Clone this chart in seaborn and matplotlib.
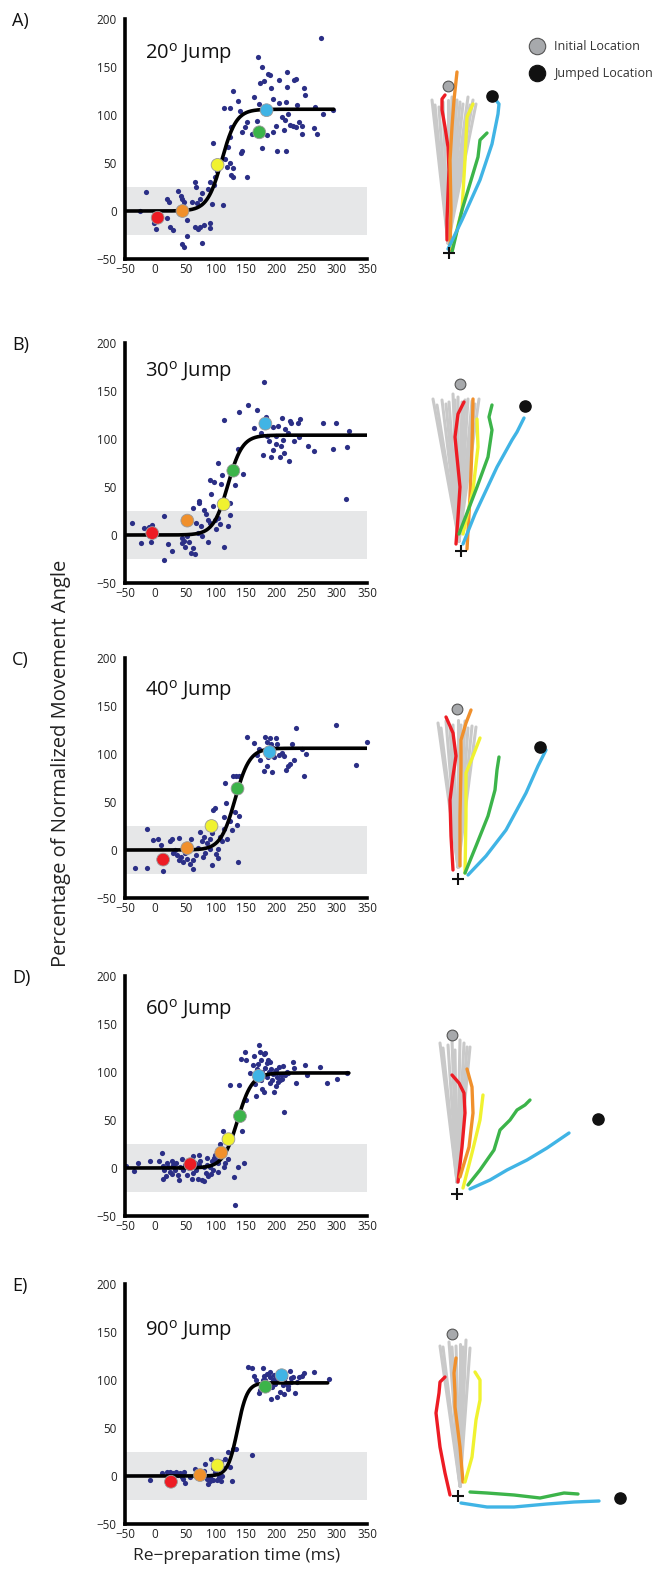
import numpy as np
import pandas as pd
import matplotlib
matplotlib.use('Agg')
import matplotlib.pyplot as plt
import seaborn as sns

# ---------------- data ----------------
panel_labels = ['A)', 'B)', 'C)', 'D)', 'E)']
jump_degrees = ['20', '30', '40', '60', '90']
x_ticks = [-50, 0, 50, 100, 150, 200, 250, 300, 350]
y_ticks = [-50, 0, 50, 100, 150, 200]
band_low, band_high = -25, 25
trial_names = ['red', 'orange', 'yellow', 'green', 'blue']

# scatter of single trials (re-preparation time, % normalized angle)
pts_A = [(-25, 0), (-16, 20), (-2, -13), (2, -19), (19, 12), (23, 9), (19, -7), (24, -17), (29, -20), (37, 21),
         (43, 16), (45, 13), (48, 9), (52, -9), (52, -26), (48, -37), (45, -34), (66, 30), (67, 25), (60, 9),
         (69, 8), (74, 13), (77, 19), (66, -17), (71, -19), (74, -17), (81, -15), (78, -33), (91, -12), (91, -18),
         (91, 30), (88, 23), (94, 7), (96, 71), (99, 35), (97, 27), (102, 42), (112, 6), (113, 107), (124, 107),
         (128, 125), (125, 88), (124, 77), (121, 67), (116, 54), (124, 50), (118, 46), (128, 45), (125, 38), (129, 35),
         (136, 115), (140, 104), (144, 82), (142, 60), (144, 63), (151, 93), (149, 88), (151, 35), (160, 80), (164, 119),
         (170, 160), (173, 133), (176, 150), (172, 111), (169, 94), (176, 66), (179, 135), (184, 79), (187, 143), (189, 142),
         (191, 128), (195, 117), (195, 82), (200, 89), (201, 63), (205, 136), (205, 112), (209, 98), (212, 84), (214, 95),
         (216, 114), (217, 145), (217, 129), (216, 62), (220, 101), (223, 90), (227, 89), (229, 136), (232, 137), (232, 87),
         (234, 110), (237, 93), (242, 89), (243, 80), (246, 128), (248, 121), (262, 86), (267, 80), (264, 108), (274, 180),
         (278, 101), (294, 105)]
pts_B = [(-38, 12), (-24, -8), (-19, 7), (-11, 8), (-7, -7), (-5, 10), (-3, 0), (15, 20), (15, -26), (21, -9),
         (27, -17), (44, -3), (45, -8), (48, -6), (49, -13), (52, -1), (56, -7), (59, -19), (63, -14), (65, -20),
         (62, 28), (72, 35), (73, 33), (68, 12), (71, 2), (75, 9), (77, -1), (81, 26), (84, 22), (87, 16),
         (90, 13), (88, -7), (91, 57), (92, 43), (97, 55), (95, 30), (99, 16), (100, 6), (103, 75), (104, 18),
         (107, 11), (108, 53), (111, 62), (114, 120), (114, -12), (121, 9), (123, 21), (123, 33), (132, 52), (136, 90),
         (139, 128), (145, 64), (153, 135), (164, 111), (169, 130), (178, 83), (180, 159), (183, 123), (175, 106), (185, 103),
         (188, 98), (192, 81), (195, 89), (195, 113), (199, 103), (200, 95), (203, 114), (206, 81), (208, 93), (210, 122),
         (211, 99), (212, 85), (215, 110), (219, 106), (221, 77), (222, 119), (225, 117), (229, 98), (236, 117), (240, 121),
         (237, 102), (252, 93), (262, 88), (278, 117), (293, 90), (298, 117), (317, 92), (315, 37), (321, 108)]
pts_C = [(-33, -19), (-14, 22), (-14, -19), (-4, 10), (4, 11), (10, 5), (13, -22), (24, 9), (27, 11), (30, -3),
         (33, 0), (36, -5), (39, -10), (40, 12), (43, -7), (46, -12), (49, -3), (52, -9), (57, -15), (59, 11),
         (62, -20), (62, -10), (68, -5), (71, 2), (74, 19), (77, 9), (79, -7), (81, 14), (82, -3), (85, 7),
         (90, 11), (91, 1), (94, -16), (94, 18), (95, 42), (99, 44), (100, -4), (103, -8), (104, 1), (107, 14),
         (110, 9), (113, 34), (114, 22), (115, 70), (117, 49), (119, 11), (124, 30), (127, 21), (129, 77), (132, 40),
         (134, 77), (135, 26), (136, -13), (138, 35), (139, 77), (151, 118), (164, 111), (168, 99), (171, 105), (173, 94),
         (179, 82), (182, 118), (184, 87), (185, 112), (187, 97), (190, 117), (191, 110), (193, 81), (194, 106), (197, 97),
         (200, 117), (202, 110), (204, 99), (209, 101), (212, 98), (216, 83), (219, 87), (222, 90), (226, 110), (229, 94),
         (232, 127), (243, 105), (246, 77), (249, 100), (298, 130), (331, 89), (350, 113)]
pts_D = [(-48, 2), (-35, -3), (-29, 5), (-8, 7), (7, 7), (11, 16), (12, -11), (13, 2), (15, -2), (19, 5),
         (21, 1), (24, -4), (27, 7), (30, 3), (33, -2), (35, 5), (38, -7), (40, -13), (41, 1), (44, 9),
         (46, -2), (49, 3), (52, -7), (60, -11), (62, 12), (66, 5), (68, -2), (70, -11), (73, 14), (74, 7),
         (77, -12), (80, -14), (81, 1), (84, -5), (85, 10), (88, -8), (91, 1), (94, 7), (96, -2), (99, 14),
         (103, 5), (104, -4), (107, 25), (108, 12), (112, 39), (113, 1), (115, 5), (121, 9), (124, 86), (130, -9),
         (132, -39), (136, 1), (138, 86), (142, 114), (143, 39), (146, 5), (148, 121), (150, 71), (150, 112), (157, 99),
         (162, 107), (164, 117), (165, 88), (167, 75), (168, 103), (171, 128), (173, 121), (174, 112), (175, 92), (177, 82),
         (179, 119), (180, 79), (182, 120), (184, 109), (185, 95), (188, 100), (190, 89), (192, 103), (193, 92), (196, 79),
         (197, 99), (200, 85), (201, 95), (204, 105), (206, 92), (208, 97), (211, 106), (213, 58), (215, 97), (218, 100),
         (220, 99), (228, 110), (230, 104), (233, 89), (247, 107), (251, 97), (273, 105), (284, 89), (300, 93), (317, 99),
         (55, 0), (63, -5), (86, 3), (92, -6), (100, 8), (58, 8), (28, -6), (17, -8), (72, 3), (97, 10),
         (170, 108), (176, 100), (186, 113), (194, 98), (199, 102), (181, 104), (189, 110), (203, 90), (210, 93)]
pts_E = [(-9, -4), (11, 3), (19, 4), (22, 2), (24, 4), (30, 3), (35, 4), (38, 1), (41, 3), (44, -1),
         (46, -3), (48, 4), (49, -7), (57, -1), (66, 7), (69, 2), (70, -1), (74, 1), (81, 5), (82, 13),
         (85, -3), (88, -8), (90, -1), (91, -5), (92, 18), (95, -4), (96, 8), (99, 4), (102, -4), (105, -1),
         (108, 15), (109, -5), (110, 0), (113, 8), (116, 18), (121, 25), (124, 9), (127, -5), (128, 28), (134, 28),
         (160, 22), (154, 114), (160, 112), (164, 104), (167, 100), (171, 86), (173, 90), (178, 112), (179, 104), (182, 100),
         (185, 106), (186, 96), (189, 103), (191, 80), (193, 93), (195, 100), (197, 105), (198, 96), (201, 82), (203, 102),
         (206, 88), (208, 100), (211, 95), (212, 85), (215, 103), (218, 97), (220, 91), (223, 109), (224, 98), (227, 103),
         (231, 86), (234, 98), (237, 103), (243, 104), (246, 107), (262, 108), (287, 101),
         (178, 100), (188, 97), (200, 101), (213, 100), (225, 102), (190, 108), (205, 99), (220, 94)]

# highlighted trials (red, orange, yellow, green, blue)
big_A = [(4, -7), (45, 0), (103, 48), (172, 82), (184, 105)]
big_B = [(-5, 2), (53, 15), (113, 32), (129, 67), (182, 116)]
big_C = [(13, -10), (53, 2), (93, 25), (136, 64), (189, 102)]
big_D = [(58, 4), (109, 16), (121, 30), (140, 54), (171, 96)]
big_E = [(26, -6), (74, 1), (103, 11), (182, 93), (209, 105)]

# fitted sigmoid: midpoint (ms), width (ms), plateau (%), last x (ms)
fit_A = (110, 12, 106, 295)
fit_B = (120, 12, 104, 350)
fit_C = (132, 12, 106, 350)
fit_D = (136, 12, 99, 320)
fit_E = (136, 8, 97, 285)

# hand paths (screen px relative to start '+', y up)
initial_loc = [(-1, 167), (-1, 167), (-1, 170), (-5, 159), (-6, 162)]
jumped_loc = [(43, 157), (64, 145), (82, 132), (141, 75), (162, -2)]

fan_A = [(-17, 153), (-14, 148), (-10, 146), (-6, 151), (-1, 153), (3, 156), (6, 153), (8, 153), (11, 151), (14, 149), (19, 156), (21, 148), (24, 153), (27, 149)]
fan_B = [(-28, 152), (-24, 146), (-19, 151), (-15, 147), (-12, 149), (-8, 157), (-6, 151), (-3, 154), (1, 149), (4, 151), (7, 152), (11, 150), (14, 147), (18, 152)]
fan_C = [(-20, 156), (-17, 151), (-12, 158), (-8, 151), (-5, 154), (0, 159), (3, 154), (7, 158), (10, 151), (14, 153), (18, 152)]
fan_D = [(-17, 151), (-14, 146), (-9, 149), (-5, 154), (-2, 144), (3, 154), (7, 151), (10, 147), (13, 147)]
fan_E = [(-18, 150), (-15, 149), (-9, 154), (-6, 149), (-2, 150), (2, 152), (5, 149), (8, 156), (12, 148)]
fan_base = [(-1, 10), (-2, 10), (0, 12), (0, 12), (2, 10)]

traj_A = {
    'red': [(-2, 13), (-2, 33), (-1, 59), (0, 83), (-1, 106), (-4, 126), (-7, 143), (-7, 154), (-4, 158)],
    'orange': [(1, 3), (2, 43), (1, 93), (3, 126), (5, 153), (8, 181)],
    'yellow': [(3, 4), (13, 43), (16, 93), (18, 136), (24, 149)],
    'green': [(3, 1), (13, 43), (23, 76), (29, 96), (31, 113), (38, 120)],
    'blue': [(-1, 4), (13, 33), (31, 73), (43, 109), (49, 139), (50, 149), (46, 154)],
}
traj_B = {
    'red': [(-5, 7), (-3, 34), (-1, 64), (-4, 94), (-6, 114), (-3, 137), (3, 149)],
    'orange': [(6, 2), (9, 54), (11, 104), (12, 152)],
    'yellow': [(2, 17), (12, 61), (17, 104), (16, 132)],
    'green': [(-2, 17), (16, 64), (27, 94), (31, 121), (28, 134), (31, 146)],
    'blue': [(2, 7), (14, 37), (36, 84), (51, 111), (56, 119), (63, 133)],
}
traj_C = {
    'red': [(-5, 9), (-7, 43), (-8, 79), (-5, 103), (-2, 123), (-5, 146), (-12, 162)],
    'orange': [(2, 13), (2, 63), (3, 113), (3, 139), (8, 156), (13, 169)],
    'yellow': [(7, 6), (8, 63), (8, 106), (15, 123), (22, 141)],
    'green': [(7, 6), (18, 33), (30, 63), (37, 89), (39, 109), (41, 122)],
    'blue': [(10, 4), (28, 23), (48, 49), (68, 86), (80, 113), (88, 129)],
}
traj_D = {
    'red': [(1, 12), (5, 47), (8, 81), (7, 101), (2, 111), (-5, 119)],
    'orange': [(3, 17), (12, 47), (16, 81), (15, 107), (10, 125)],
    'yellow': [(6, 6), (15, 41), (23, 74), (26, 99)],
    'green': [(11, 9), (23, 24), (37, 44), (43, 64), (53, 74), (60, 84), (68, 89), (73, 94)],
    'blue': [(13, 5), (33, 14), (50, 24), (70, 34), (90, 46), (112, 61)],
}
traj_E = {
    'red': [(-8, 1), (-13, 23), (-18, 49), (-22, 83), (-19, 103), (-18, 114), (-13, 119)],
    'orange': [(5, 14), (2, 49), (-3, 89), (-3, 103), (-4, 123), (-2, 138)],
    'yellow': [(7, 14), (14, 39), (18, 76), (22, 96), (22, 116), (17, 124)],
    'green': [(12, 4), (29, 3), (56, 1), (82, -2), (106, 3), (120, 2)],
    'blue': [(3, -7), (29, -11), (56, -11), (89, -8), (116, -6), (141, -5)],
}

# ---------------- style / layout ----------------
W, H = 656, 1572
navy = '#2b2f86'
trial_colors = ['#ed1c24', '#f0902c', '#f0f230', '#3cb44a', '#40b4e5']
band_color = '#e6e7e8'
axes_top_px = [19, 343, 658, 976, 1284]
plus_px = [(449, 253), (461, 551), (458, 879), (457, 1194), (458, 1496)]
jump_text_y = [164, 170, 166, 165, 152]

sns.set_theme(style='white')
plt.rcParams['font.family'] = ['Open Sans', 'DejaVu Sans']
plt.rcParams['mathtext.fontset'] = 'custom'
plt.rcParams['mathtext.rm'] = 'Open Sans'

fig = plt.figure(figsize=(W / 100, H / 100), dpi=100)


def px_axes(left, top, width, height):
    return fig.add_axes([left / W, 1 - (top + height) / H, width / W, height / H])


panels = [
    (pts_A, big_A, fit_A, fan_A, traj_A),
    (pts_B, big_B, fit_B, fan_B, traj_B),
    (pts_C, big_C, fit_C, fan_C, traj_C),
    (pts_D, big_D, fit_D, fan_D, traj_D),
    (pts_E, big_E, fit_E, fan_E, traj_E),
]

for i, (pts, big, fit, fan, traj) in enumerate(panels):
    # ---- left: scatter + sigmoid ----
    ax = px_axes(125, axes_top_px[i], 242, 240)
    ax.axhspan(band_low, band_high, color=band_color, lw=0, zorder=0)
    df = pd.DataFrame(pts, columns=['time', 'angle'])
    sns.scatterplot(data=df, x='time', y='angle', ax=ax, color=navy, s=14,
                    linewidth=0, clip_on=False, zorder=2)
    mid, width, top, x_end = fit
    xs = np.linspace(-50, x_end, 300)
    ys = top / (1 + np.exp(-(xs - mid) / width))
    sns.lineplot(x=xs, y=ys, ax=ax, color='black', lw=2.6, zorder=3)
    bdf = pd.DataFrame(big, columns=['time', 'angle'])
    bdf['trial'] = trial_names
    sns.scatterplot(data=bdf, x='time', y='angle', hue='trial', palette=trial_colors,
                    ax=ax, s=85, edgecolor='#9a9a9a', linewidth=0.6, legend=False, zorder=4)
    ax.set_xlim(-50, 350)
    ax.set_ylim(-50, 200)
    ax.set_xticks(x_ticks)
    ax.set_yticks(y_ticks)
    ax.set_xticklabels(['\u221250' if t == -50 else str(t) for t in x_ticks])
    ax.set_yticklabels(['\u221250' if t == -50 else str(t) for t in y_ticks])
    ax.tick_params(axis='x', direction='in', length=3, width=0.8, pad=3, labelsize=8.4, colors='#222222')
    ax.tick_params(axis='y', length=0, pad=6, labelsize=8.4, colors='#222222')
    for s in ['top', 'right']:
        ax.spines[s].set_visible(False)
    for s in ['left', 'bottom']:
        ax.spines[s].set_linewidth(2.6)
        ax.spines[s].set_color('black')
    ax.set_xlabel('')
    ax.set_ylabel('')
    ax.text(-17, jump_text_y[i], jump_degrees[i] + r'$^{\rm o}$ Jump', fontsize=14.5,
            ha='left', va='center', color='#111111')
    fig.text(12 / W, 1 - (axes_top_px[i] + 2) / H, panel_labels[i], fontsize=13,
             ha='left', va='center', color='#111111')

    # ---- right: hand paths ----
    px, py = plus_px[i]
    rax = px_axes(395, py - 245, 261, 290)
    rax.set_xlim(395 - px, 656 - px)
    rax.set_ylim(-45, 245)
    rax.axis('off')
    bx, by = fan_base[i]
    for fx, fy in fan:
        sns.lineplot(x=[bx, fx], y=[by, fy], ax=rax, color='#c9c9c9', lw=2.2,
                     sort=False, estimator=None, zorder=1)
    for name, col in zip(trial_names, trial_colors):
        path = pd.DataFrame(traj[name], columns=['x', 'y'])
        sns.lineplot(data=path, x='x', y='y', ax=rax, color=col, lw=2.4,
                     sort=False, estimator=None, zorder=3)
    rax.scatter(*initial_loc[i], s=60, color='#a7a9ac', edgecolor='#555555', lw=0.8, zorder=4)
    rax.scatter(*jumped_loc[i], s=65, color='#111111', zorder=4)
    rax.plot(0, 0, marker='+', ms=8, mew=1.5, color='#111111', zorder=5)
    rax.set_xlabel('')
    rax.set_ylabel('')

    if i == 0:
        legend_items = [('Initial Location', '#a7a9ac', '#555555', 207),
                        ('Jumped Location', '#111111', '#111111', 180)]
        for label, fc, ec, ly in legend_items:
            rax.scatter(88, ly, s=140, color=fc, edgecolor=ec, lw=0.8, clip_on=False)
            rax.text(105, ly, label, fontsize=9, ha='left', va='center', color='#333333')

fig.text(61 / W, 1 - 763 / H, 'Percentage of Normalized Movement Angle', rotation=90,
         fontsize=14.5, ha='center', va='center', color='#222222')
fig.text(237 / W, 1 - 1556 / H, 'Re\u2212preparation time (ms)', fontsize=12.5,
         ha='center', va='center', color='#222222')

fig.savefig('out.png', dpi=100)
